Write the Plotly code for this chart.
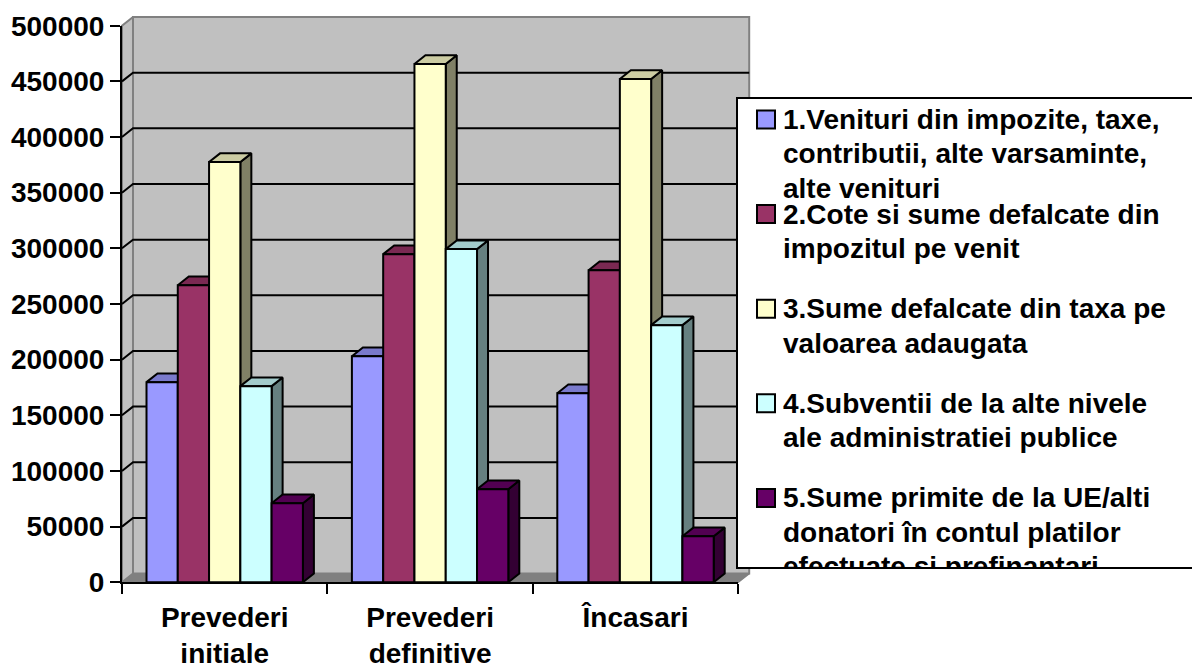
import plotly.graph_objects as go

# ---------------- data ----------------
CATEGORIES = ["Prevederi<br>initiale", "Prevederi<br>definitive", "Încasari"]
SERIES_NAMES = [
    "1.Venituri din impozite, taxe,<br>contributii, alte varsaminte,<br>alte venituri",
    "2.Cote si sume defalcate din<br>impozitul pe venit",
    "3.Sume defalcate din taxa pe<br>valoarea adaugata",
    "4.Subventii de la alte nivele<br>ale administratiei publice",
    "5.Sume primite de la UE/alti<br>donatori în contul platilor<br>efectuate si prefinantari",
]
S1_VENITURI = [179800, 203100, 169900]
S2_COTE = [266900, 294800, 280400]
S3_TVA = [377500, 465600, 452100]
S4_SUBVENTII = [176200, 299300, 231000]
S5_UE = [71000, 83600, 41300]
SERIES_VALUES = [S1_VENITURI, S2_COTE, S3_TVA, S4_SUBVENTII, S5_UE]
Y_TICKS = [0, 50000, 100000, 150000, 200000, 250000, 300000, 350000, 400000, 450000, 500000]

# ---------------- styles ----------------
COLORS = ["#9999FF", "#993366", "#FFFFCC", "#CCFFFF", "#660066"]
WALL = "#C0C0C0"
FLOOR = "#808080"
EDGE = "#808080"
FONT = "Liberation Sans, Arial, sans-serif"
FS = 28

# ---------------- geometry (pixels) ----------------
W, H = 1192, 668
AX_L, AX_R = 122.0, 738.2      # front plane x extent
AX_B, AX_T = 582.3, 25.7       # front plane y extent (0 and YMAX)
YMAX = Y_TICKS[-1]
DEPTH_X, DEPTH_Y = 11.0, 8.7   # 3D depth offset
GAP_PX = 49.0                  # gap between category groups

NCAT = len(CATEGORIES)
UX = NCAT / (AX_R - AX_L)          # x units per px
UY = YMAX / (AX_B - AX_T)          # y units per px
DX, DY = DEPTH_X * UX, DEPTH_Y * UY
XL0 = -0.5


def shade(hexc, f):
    h = hexc.lstrip("#")
    r, g, b = (int(h[i:i + 2], 16) for i in (0, 2, 4))
    return "rgb(%d,%d,%d)" % (round(r * f), round(g * f), round(b * f))


x_range = [XL0 - AX_L * UX, XL0 + (W - AX_L) * UX]
y_range = [-(H - AX_B) * UY, AX_B * UY]

fig = go.Figure()


def poly(xs, ys, fill, line="black", lw=2, xaxis="x", yaxis="y"):
    fig.add_trace(go.Scatter(x=xs, y=ys, mode="lines", fill="toself", fillcolor=fill,
                             line=dict(color=line, width=lw), hoverinfo="skip",
                             showlegend=False, xaxis=xaxis, yaxis=yaxis))


XR0 = XL0 + NCAT
# floor
poly([XL0, XL0 + DX, XR0 + DX, XR0, XL0], [0, DY, DY, 0, 0], FLOOR, EDGE, 1.5)
# left wall
poly([XL0, XL0, XL0 + DX, XL0 + DX, XL0], [0, YMAX, YMAX + DY, DY, 0], WALL, EDGE, 2)
# back wall
poly([XL0 + DX, XL0 + DX, XR0 + DX, XR0 + DX, XL0 + DX], [DY, YMAX + DY, YMAX + DY, DY, DY], WALL, EDGE, 2)

# gridlines on walls
gx, gy = [], []
for v in Y_TICKS[1:-1]:
    gx += [XL0, XL0 + DX, XR0 + DX, None]
    gy += [v, v + DY, v + DY, None]
fig.add_trace(go.Scatter(x=gx, y=gy, mode="lines", line=dict(color="black", width=2),
                         hoverinfo="skip", showlegend=False))

# bar geometry
cat_px = (AX_R - AX_L) / NCAT
bw = (cat_px - GAP_PX) / len(SERIES_VALUES) * UX
group_left = -0.5 + (GAP_PX / 2) * UX

# side and top faces (below front faces), drawn left to right
for k, vals in enumerate(SERIES_VALUES):
    sx, sy, tx, ty = [], [], [], []
    for c, v in enumerate(vals):
        xl = c + group_left + k * bw
        xr = xl + bw
        sx += [xr, xr + DX, xr + DX, xr, xr, None]
        sy += [0, DY, v + DY, v, 0, None]
        tx += [xl, xl + DX, xr + DX, xr, xl, None]
        ty += [v, v + DY, v + DY, v, v, None]
    poly(sx, sy, shade(COLORS[k], 0.5))
    poly(tx, ty, shade(COLORS[k], 0.8))

# front faces as real bars on an overlaying axis pair
for k, vals in enumerate(SERIES_VALUES):
    xs = [c + group_left + (k + 0.5) * bw for c in range(NCAT)]
    fig.add_trace(go.Bar(x=xs, y=vals, width=bw, name=SERIES_NAMES[k].replace("<br>", " "),
                         marker=dict(color=COLORS[k], line=dict(color="black", width=2)),
                         xaxis="x3", yaxis="y3", showlegend=False, hoverinfo="y"))

# axes subplot (ticks and labels)
fig.add_trace(go.Scatter(x=CATEGORIES, y=[0] * NCAT, mode="markers", marker=dict(opacity=0),
                         hoverinfo="skip", showlegend=False, xaxis="x2", yaxis="y2"))

# ---------------- legend (clipped box) ----------------
LEG_L, LEG_T, LEG_B = 737.0, 98.0, 568.0
LEG_W, LEG_H = W - LEG_L, LEG_B - LEG_T
FIRST_BASE = 129.0 - LEG_T
ENTRY_H = 94.6
LINE_H = 34.4
SQ_X = 766.0 - LEG_L
TXT_X = 783.0 - LEG_L

poly([0, LEG_W + 5, LEG_W + 5, 0, 0], [0, 0, LEG_H, LEG_H, 0], "white", "rgba(0,0,0,0)", 0,
     xaxis="x4", yaxis="y4")
for k, name in enumerate(SERIES_NAMES):
    base = FIRST_BASE + k * ENTRY_H
    fig.add_trace(go.Scatter(x=[SQ_X], y=[base - 9.5], mode="markers",
                             marker=dict(symbol="square", size=18, color=COLORS[k],
                                         line=dict(color="black", width=2)),
                             hoverinfo="skip", showlegend=False, xaxis="x4", yaxis="y4"))
    lines = name.split("<br>")
    fig.add_trace(go.Scatter(x=[TXT_X] * len(lines),
                             y=[base + i * LINE_H - 0.25 * FS for i in range(len(lines))],
                             text=lines, mode="text", textposition="middle right",
                             textfont=dict(family=FONT, size=FS, color="black", weight="bold"),
                             hoverinfo="skip", showlegend=False, xaxis="x4", yaxis="y4"))

hidden = dict(visible=False, fixedrange=True, automargin=False)
fig.update_layout(
    width=W, height=H, margin=dict(l=0, r=0, t=0, b=0, pad=0, autoexpand=False),
    paper_bgcolor="white", plot_bgcolor="rgba(0,0,0,0)",
    barmode="overlay", showlegend=False,
    font=dict(family=FONT, size=FS, color="black", weight="bold"),
    xaxis=dict(domain=[0, 1], range=x_range, anchor="y", **hidden),
    yaxis=dict(domain=[0, 1], range=y_range, anchor="x", **hidden),
    xaxis3=dict(overlaying="x", range=x_range, anchor="y3", **hidden),
    yaxis3=dict(overlaying="y", range=y_range, anchor="x3", **hidden),
    xaxis2=dict(domain=[AX_L / W, AX_R / W], anchor="y2", type="category",
                categoryorder="array", categoryarray=CATEGORIES, range=[-0.5, NCAT - 0.5],
                tickson="boundaries", ticks="outside", ticklen=10, tickwidth=2, tickcolor="black",
                showline=True, linewidth=2, linecolor="black", showgrid=False, zeroline=False,
                tickfont=dict(family=FONT, size=FS, color="black", weight="bold"),
                ticklabelstandoff=9, automargin=False, fixedrange=True),
    yaxis2=dict(domain=[1 - AX_B / H, 1 - AX_T / H], anchor="x2", range=[0, YMAX],
                tickvals=Y_TICKS, tickformat="d", ticks="outside", ticklen=10, tickwidth=2,
                tickcolor="black", showline=True, linewidth=2, linecolor="black",
                showgrid=False, zeroline=False,
                tickfont=dict(family=FONT, size=FS, color="black", weight="bold"),
                ticklabelstandoff=0, automargin=False, fixedrange=True),
    xaxis4=dict(domain=[LEG_L / W, 1], range=[0, LEG_W], anchor="y4", **hidden),
    yaxis4=dict(domain=[1 - LEG_B / H, 1 - LEG_T / H], range=[LEG_H, 0], anchor="x4", **hidden),
    shapes=[dict(type="path", xref="paper", yref="paper", layer="above",
                 path="M %f %f L %f %f L %f %f L %f %f" % (
                     1.01, 1 - LEG_T / H, LEG_L / W, 1 - LEG_T / H,
                     LEG_L / W, 1 - LEG_B / H, 1.01, 1 - LEG_B / H),
                 line=dict(color="black", width=2))],
)

fig.write_html("out.html")
